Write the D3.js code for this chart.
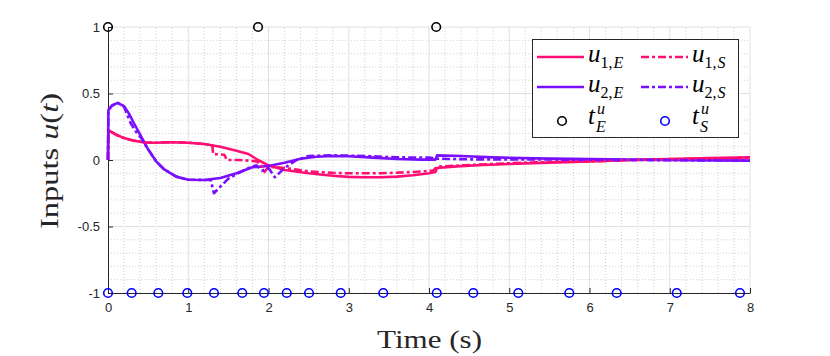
<!DOCTYPE html>
<html>
<head>
<meta charset="utf-8">
<script src="https://cdn.jsdelivr.net/npm/d3@7"></script>
<style>
body { margin: 0; background: #fff; }
</style>
</head>
<body>
<div id="chart"></div>
<script>
// series: time stamps and values
var u1E_t = [0, 0.005, 0.1, 0.2, 0.3, 0.45, 0.6, 0.8, 1.0, 1.2, 1.4, 1.6, 1.75, 1.87, 2.0, 2.2, 2.5, 2.8, 3.0, 3.2, 3.4, 3.6, 3.8, 4.0, 4.08, 4.1, 4.3, 4.6, 5.0, 5.5, 6.0, 6.5, 7.0, 7.5, 8.0];
var u1E_v = [0, 0.225, 0.19, 0.165, 0.148, 0.132, 0.13, 0.134, 0.13, 0.12, 0.1, 0.07, 0.045, 0.0, -0.04, -0.075, -0.1, -0.118, -0.127, -0.13, -0.13, -0.125, -0.115, -0.1, -0.09, -0.06, -0.05, -0.04, -0.03, -0.02, -0.01, 0.0, 0.008, 0.015, 0.02];

var u1S_t = [0, 0.005, 0.1, 0.2, 0.3, 0.45, 0.6, 0.8, 1.0, 1.2, 1.3, 1.31, 1.45, 1.48, 1.65, 1.85, 1.9, 1.95, 2.0, 2.2, 2.5, 2.8, 3.0, 3.4, 3.8, 4.05, 4.1, 4.6, 5.2, 6.0, 6.6, 7.3, 8.0];
var u1S_v = [0, 0.225, 0.19, 0.165, 0.148, 0.132, 0.13, 0.134, 0.13, 0.12, 0.11, 0.045, 0.04, 0.0, 0.0, -0.01, -0.03, -0.09, -0.05, -0.06, -0.085, -0.097, -0.1, -0.1, -0.09, -0.08, -0.05, -0.035, -0.02, -0.01, 0.0, 0.01, 0.015];

var u2E_t = [0, 0.005, 0.05, 0.12, 0.2, 0.26, 0.32, 0.4, 0.5, 0.6, 0.7, 0.85, 1.0, 1.2, 1.4, 1.6, 1.8, 2.0, 2.2, 2.4, 2.6, 2.8, 3.0, 3.3, 3.6, 3.9, 4.08, 4.1, 4.4, 4.8, 5.5, 6.5, 8.0];
var u2E_v = [0, 0.375, 0.41, 0.43, 0.405, 0.35, 0.28, 0.19, 0.08, -0.01, -0.07, -0.125, -0.148, -0.15, -0.135, -0.1, -0.055, -0.045, -0.02, 0.01, 0.025, 0.03, 0.028, 0.018, 0.008, 0.003, 0.003, 0.035, 0.03, 0.02, 0.01, 0.003, -0.005];

var u2S_t = [0, 0.005, 0.05, 0.12, 0.2, 0.28, 0.34, 0.42, 0.5, 0.6, 0.7, 0.85, 1.0, 1.2, 1.28, 1.32, 1.4, 1.5, 1.62, 1.75, 1.85, 1.92, 2.0, 2.08, 2.2, 2.35, 2.5, 2.8, 3.2, 3.6, 4.0, 4.1, 4.5, 5.0, 6.0, 8.0];
var u2S_v = [0, 0.375, 0.41, 0.43, 0.4, 0.28, 0.22, 0.16, 0.08, -0.01, -0.07, -0.125, -0.148, -0.15, -0.15, -0.25, -0.2, -0.14, -0.1, -0.06, -0.04, -0.08, -0.06, -0.13, -0.06, 0.0, 0.03, 0.035, 0.03, 0.02, 0.018, 0.01, 0.005, 0.005, 0.002, -0.005];

// event times
var tE = [0, 1.87, 4.09];
var tS = [0, 0.295, 0.627, 0.988, 1.321, 1.673, 1.944, 2.227, 2.505, 2.9, 3.43, 4.096, 4.552, 5.113, 5.748, 6.339, 7.087, 7.875];

var xTicks = [0, 1, 2, 3, 4, 5, 6, 7, 8];
var yTicks = [-1, -0.5, 0, 0.5, 1];
var yTickLabels = ['-1', '-0.5', '0', '0.5', '1'];

var pink = '#ff0f73';
var purple = '#7a0fff';
var dashDot = '8,3,3,3';
var sansFont = 'Liberation Sans';   // single names only, lists get lost in the snapshot
var serifFont = 'Liberation Serif';
var axisColor = '#262626';

var width = 830, height = 356;

var svg = d3.select('#chart').append('svg')
	.attr('width', width)
	.attr('height', height);

var x = d3.scaleLinear().domain([0, 8]).range([108, 750]);
var y = d3.scaleLinear().domain([-1, 1]).range([293, 27]);

// grid: minor dotted, then major solid
var grid = svg.append('g');
grid.selectAll('line.minx')
	.data(d3.range(0, 8.01, 0.2).filter(function(d) { return Math.abs(d - Math.round(d)) > 0.01; }))
	.enter().append('line')
	.attr('x1', function(d) { return x(d); }).attr('x2', function(d) { return x(d); })
	.attr('y1', y(-1)).attr('y2', y(1))
	.attr('stroke', '#cfcfcf').attr('stroke-dasharray', '1,2');
grid.selectAll('line.miny')
	.data(d3.range(-1, 1.001, 0.1).filter(function(d) { return Math.abs(d * 2 - Math.round(d * 2)) > 0.01; }))
	.enter().append('line')
	.attr('y1', function(d) { return y(d); }).attr('y2', function(d) { return y(d); })
	.attr('x1', x(0)).attr('x2', x(8))
	.attr('stroke', '#cfcfcf').attr('stroke-dasharray', '1,2');
grid.selectAll('line.majx')
	.data(xTicks.slice(1))
	.enter().append('line')
	.attr('x1', function(d) { return x(d); }).attr('x2', function(d) { return x(d); })
	.attr('y1', y(-1)).attr('y2', y(1))
	.attr('stroke', '#e0e0e0');
grid.selectAll('line.majy')
	.data(yTicks.slice(1))
	.enter().append('line')
	.attr('y1', function(d) { return y(d); }).attr('y2', function(d) { return y(d); })
	.attr('x1', x(0)).attr('x2', x(8))
	.attr('stroke', '#e0e0e0');

// axes (matlab style, ticks pointing in)
var xAxis = svg.append('g')
	.attr('transform', 'translate(0,' + y(-1) + ')')
	.call(d3.axisBottom(x).tickValues(xTicks).tickSizeInner(-5).tickSizeOuter(0).tickPadding(10));
var yAxis = svg.append('g')
	.attr('transform', 'translate(' + x(0) + ',0)')
	.call(d3.axisLeft(y).tickValues(yTicks).tickFormat(function(d, i) { return yTickLabels[i]; })
		.tickSizeInner(-5).tickSizeOuter(0).tickPadding(8));
[xAxis, yAxis].forEach(function(a) {
	a.attr('font-family', sansFont).attr('font-size', 13);
	a.select('.domain').attr('stroke', axisColor);
	a.selectAll('.tick line').attr('stroke', axisColor);
	a.selectAll('.tick text').attr('fill', axisColor).attr('font-family', sansFont);
});

// lines
var line = d3.line()
	.x(function(d) { return x(d[0]); })
	.y(function(d) { return y(d[1]); });

var series = [
	{t: u1E_t, v: u1E_v, color: pink, dash: null},
	{t: u2E_t, v: u2E_v, color: purple, dash: null},
	{t: u1S_t, v: u1S_v, color: pink, dash: dashDot},
	{t: u2S_t, v: u2S_v, color: purple, dash: dashDot}
];
series.forEach(function(s) {
	svg.append('path')
		.datum(d3.zip(s.t, s.v))
		.attr('d', line)
		.attr('fill', 'none')
		.attr('stroke', s.color)
		.attr('stroke-width', 2.6)
		.attr('stroke-linejoin', 'round')
		.attr('stroke-dasharray', s.dash);
});

// event markers
svg.selectAll('circle.tE')
	.data(tE).enter().append('circle')
	.attr('cx', function(d) { return x(d); })
	.attr('cy', y(1))
	.attr('r', 4.3)
	.attr('fill', 'none').attr('stroke', '#000').attr('stroke-width', 1.6);
svg.selectAll('circle.tS')
	.data(tS).enter().append('circle')
	.attr('cx', function(d) { return x(d); })
	.attr('cy', y(-1))
	.attr('r', 4.3)
	.attr('fill', 'none').attr('stroke', '#0000ff').attr('stroke-width', 1.6);

// axis labels
svg.append('text')
	.attr('font-family', serifFont)
	.attr('x', 377).attr('y', 348)
	.attr('font-size', 25)
	.attr('textLength', 105)
	.attr('lengthAdjust', 'spacingAndGlyphs')
	.attr('fill', axisColor)
	.text('Time (s)');

var yl = svg.append('text')
	.attr('font-family', serifFont)
	.attr('transform', 'translate(58,229) rotate(-90)')
	.attr('font-size', 25)
	.attr('textLength', 136)
	.attr('lengthAdjust', 'spacingAndGlyphs')
	.attr('fill', axisColor);
yl.append('tspan').attr('font-family', serifFont).text('Inputs ');
yl.append('tspan').attr('font-family', serifFont).attr('font-style', 'italic').text('u');
yl.append('tspan').attr('font-family', serifFont).text('(');
yl.append('tspan').attr('font-family', serifFont).attr('font-style', 'italic').text('t');
yl.append('tspan').attr('font-family', serifFont).text(')');

// legend
var legend = svg.append('g');
legend.append('rect')
	.attr('x', 532.5).attr('y', 39.5)
	.attr('width', 206).attr('height', 98)
	.attr('fill', '#fff').attr('stroke', axisColor).attr('stroke-width', 1);

var legendLines = [
	{x: 537, y: 57, color: pink, dash: null, sub: '1,', last: 'E'},
	{x: 641, y: 57, color: pink, dash: dashDot, sub: '1,', last: 'S'},
	{x: 537, y: 87, color: purple, dash: null, sub: '2,', last: 'E'},
	{x: 641, y: 87, color: purple, dash: dashDot, sub: '2,', last: 'S'}
];
legendLines.forEach(function(d) {
	legend.append('line')
		.attr('x1', d.x).attr('x2', d.x + 47)
		.attr('y1', d.y).attr('y2', d.y)
		.attr('stroke', d.color).attr('stroke-width', 2.6)
		.attr('stroke-dasharray', d.dash);
	var tx = legend.append('text')
		.attr('font-family', serifFont).attr('fill', '#000')
		.attr('x', d.x + 51).attr('y', d.y + 5);
	tx.append('tspan').attr('font-family', serifFont).attr('font-style', 'italic').attr('font-size', 25).text('u');
	tx.append('tspan').attr('font-family', serifFont).attr('font-size', 16).attr('dy', 6).text(d.sub);
	tx.append('tspan').attr('font-family', serifFont).attr('font-style', 'italic').attr('font-size', 16).attr('dx', 1).text(d.last);
});

var legendMarks = [
	{cx: 562, tx: 588, color: '#000', sub: 'E'},
	{cx: 665, tx: 692, color: '#0000ff', sub: 'S'}
];
legendMarks.forEach(function(d) {
	legend.append('circle')
		.attr('cx', d.cx).attr('cy', 121).attr('r', 4.3)
		.attr('fill', 'none').attr('stroke', d.color).attr('stroke-width', 1.6);
	legend.append('text').attr('font-family', serifFont).attr('fill', '#000')
		.attr('x', d.tx).attr('y', 124)
		.attr('font-style', 'italic').attr('font-size', 25).text('t');
	legend.append('text').attr('font-family', serifFont).attr('fill', '#000')
		.attr('x', d.tx + 9).attr('y', 114)
		.attr('font-style', 'italic').attr('font-size', 16).text('u');
	legend.append('text').attr('font-family', serifFont).attr('fill', '#000')
		.attr('x', d.tx + 8).attr('y', 132)
		.attr('font-style', 'italic').attr('font-size', 16).text(d.sub);
});
</script>
</body>
</html>
